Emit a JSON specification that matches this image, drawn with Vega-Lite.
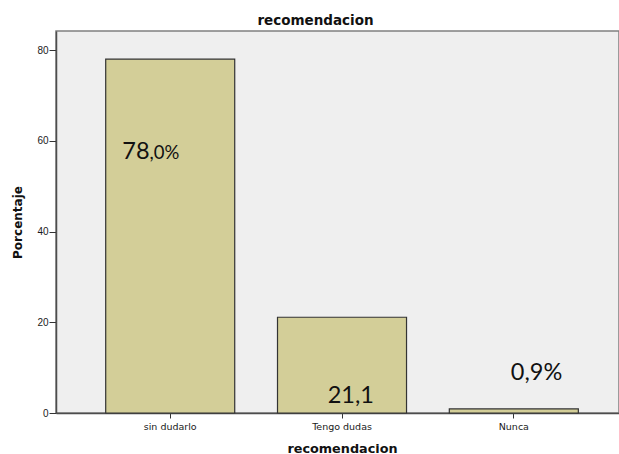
{
  "$schema": "https://vega.github.io/schema/vega-lite/v6.json",
  "autosize": {"type": "none"},
  "padding": {"left": 56, "top": 31, "right": 0, "bottom": 41},
  "width": 563,
  "height": 382,
  "background": "#ffffff",
  "title": {
    "text": "recomendacion",
    "font": "DejaVu Sans",
    "fontWeight": "bold",
    "fontSize": 13.5,
    "color": "#111111",
    "anchor": "middle",
    "frame": "group",
    "dx": -22,
    "dy": 14,
    "offset": 7,
    "baseline": "alphabetic"
  },
  "data": {
    "values": [
      {"recomendacion": "sin dudarlo", "porcentaje": 78.0, "etiqueta": "78", "sufijo": ",0%"},
      {"recomendacion": "Tengo dudas", "porcentaje": 21.1, "etiqueta": "21,1", "sufijo": ""},
      {"recomendacion": "Nunca", "porcentaje": 0.9, "etiqueta": "0,9%", "sufijo": ""}
    ]
  },
  "encoding": {
    "x": {
      "field": "recomendacion",
      "type": "nominal",
      "sort": null,
      "scale": {"paddingInner": 0.249, "paddingOuter": 0.263, "align": 0.55},
      "axis": {
        "title": "recomendacion",
        "labelAngle": 0,
        "labelFont": "DejaVu Sans",
        "labelFontSize": 9.5,
        "labelColor": "#1a1a1a",
        "labelPadding": 3,
        "tickSize": 5,
        "tickColor": "#333333",
        "domainColor": "#4d4d4d",
        "domainWidth": 1.5,
        "titleFont": "DejaVu Sans",
        "titleFontWeight": "bold",
        "titleFontSize": 12.8,
        "titleColor": "#111111",
        "titleX": 286,
        "titleY": 39,
        "titleBaseline": "alphabetic"
      }
    },
    "y": {
      "field": "porcentaje",
      "type": "quantitative",
      "scale": {"domain": [0, 84.2], "nice": false},
      "axis": {
        "title": "Porcentaje",
        "values": [0, 20, 40, 60, 80],
        "grid": false,
        "labelFont": "Liberation Sans",
        "labelFontSize": 10,
        "labelColor": "#1a1a1a",
        "labelPadding": 1,
        "tickSize": 7,
        "tickColor": "#333333",
        "domainColor": "#4d4d4d",
        "domainWidth": 1.5,
        "titleFont": "DejaVu Sans",
        "titleFontWeight": "bold",
        "titleFontSize": 12,
        "titleColor": "#111111",
        "titleX": -31.5,
        "titleY": 191
      }
    }
  },
  "layer": [
    {
      "mark": {"type": "bar", "fill": "#d3ce98", "stroke": "#333333", "strokeWidth": 1.2}
    },
    {
      "transform": [{"filter": "datum.recomendacion === 'sin dudarlo'"}],
      "mark": {"type": "text", "font": "Lato", "fontSize": 23.5, "color": "#111111", "align": "right", "baseline": "alphabetic", "dx": -20.7, "dy": 100.2},
      "encoding": {"text": {"field": "etiqueta"}}
    },
    {
      "transform": [{"filter": "datum.recomendacion === 'sin dudarlo'"}],
      "mark": {"type": "text", "font": "Lato", "fontSize": 18.5, "color": "#111111", "align": "left", "baseline": "alphabetic", "dx": -20.7, "dy": 100.2},
      "encoding": {"text": {"field": "sufijo"}}
    },
    {
      "transform": [{"filter": "datum.recomendacion === 'Tengo dudas'"}],
      "mark": {"type": "text", "font": "Lato", "fontSize": 23.5, "color": "#111111", "align": "left", "baseline": "alphabetic", "dx": -14.3, "dy": 85.4},
      "encoding": {"text": {"field": "etiqueta"}}
    },
    {
      "transform": [{"filter": "datum.recomendacion === 'Nunca'"}],
      "mark": {"type": "text", "font": "Lato", "fontSize": 23.5, "color": "#111111", "align": "left", "baseline": "alphabetic", "dx": -3, "dy": -28.6},
      "encoding": {"text": {"field": "etiqueta"}}
    }
  ],
  "config": {
    "view": {"fill": "#efefef", "stroke": "#808080", "strokeWidth": 1.5}
  }
}
